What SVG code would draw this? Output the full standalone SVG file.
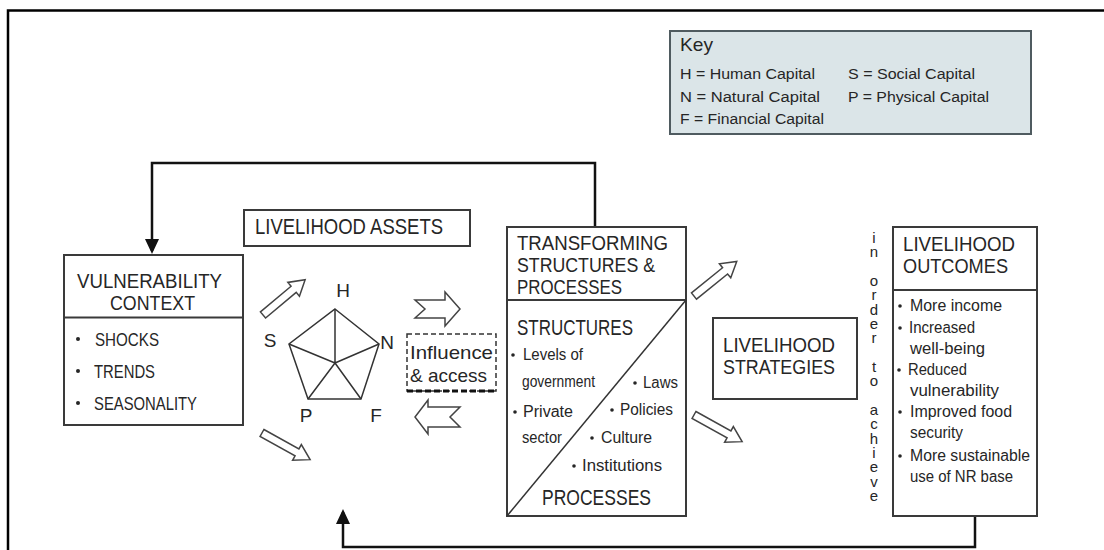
<svg xmlns="http://www.w3.org/2000/svg" xmlns:xlink="http://www.w3.org/1999/xlink" width="1104" height="550" viewBox="0 0 1104 550">
<style>
text{font-family:"Liberation Sans",Arial,sans-serif;fill:#262626}
.title{font-size:22px}
.title2{font-size:19.5px}
.item{font-size:16px}
.key{font-size:15.5px}
.box{fill:#fff;stroke:#3a3a3a;stroke-width:2}
.div{stroke:#3a3a3a;stroke-width:2;fill:none}
.thin{stroke:#333;stroke-width:1.5;fill:none}
.hollow{fill:#fff;stroke:#444;stroke-width:1.5;stroke-linejoin:miter}
.dot{fill:#262626}
.conn{fill:none;stroke:#111;stroke-width:2.5}
</style>
<defs>
<marker id="head" viewBox="0 0 15 14" refX="12" refY="7" markerWidth="15" markerHeight="14" markerUnits="userSpaceOnUse" orient="auto">
<path d="M0,0 L15,7 L0,14 Z" fill="#111"/>
</marker>
<path id="diagArrow" d="M0,-4 H40 V-9 L55,0 L40,9 V4 H0 Z"/>
</defs>
<rect x="0" y="0" width="1104" height="550" fill="#fff"/>
<path d="M8,550 V10.5 H1104" fill="none" stroke="#000" stroke-width="2.5"/>

<g id="key">
<rect x="670" y="31" width="361" height="103" fill="#dbe5e8" stroke="#4f5b60" stroke-width="2"/>
<text x="680" y="51" style="font-size:19px" textLength="33" lengthAdjust="spacingAndGlyphs">Key</text>
<text class="key" x="680" y="79" textLength="135" lengthAdjust="spacingAndGlyphs">H = Human Capital</text>
<text class="key" x="680" y="101.5" textLength="140" lengthAdjust="spacingAndGlyphs">N = Natural Capital</text>
<text class="key" x="680" y="124" textLength="144" lengthAdjust="spacingAndGlyphs">F = Financial Capital</text>
<text class="key" x="848" y="79" textLength="127" lengthAdjust="spacingAndGlyphs">S = Social Capital</text>
<text class="key" x="848" y="101.5" textLength="141" lengthAdjust="spacingAndGlyphs">P = Physical Capital</text>
</g>

<g id="connectors">
<path class="conn" d="M595,227 V163 H152 V251" marker-end="url(#head)"/>
<path class="conn" d="M975,516 V547 H343 V512" marker-end="url(#head)"/>
<use xlink:href="#diagArrow" class="hollow" transform="translate(263,315) rotate(-40)"/>
<use xlink:href="#diagArrow" class="hollow" transform="translate(262,433) rotate(29)"/>
<path class="hollow" d="M415,300 L445,300 L445,292 L460,309 L445,326 L445,318 L415,318 L425,309 Z"/>
<path class="hollow" d="M460,407 L428,407 L428,400 L415,417 L428,434 L428,427 L460,427 L450,417 Z"/>
<use xlink:href="#diagArrow" class="hollow" transform="translate(694,296) rotate(-39)"/>
<use xlink:href="#diagArrow" class="hollow" transform="translate(694,415) rotate(29)"/>
</g>

<g id="vulnerability-context">
<rect class="box" x="64" y="255" width="179" height="170"/>
<line class="div" x1="64" y1="317.5" x2="243" y2="317.5"/>
<text class="title2" x="77" y="288" textLength="145" lengthAdjust="spacingAndGlyphs">VULNERABILITY</text>
<text class="title2" x="110" y="310" textLength="85" lengthAdjust="spacingAndGlyphs">CONTEXT</text>
<circle class="dot" cx="78" cy="339" r="2"/>
<circle class="dot" cx="78" cy="371" r="2"/>
<circle class="dot" cx="78" cy="403" r="2"/>
<text x="95" y="346" style="font-size:19px" textLength="64" lengthAdjust="spacingAndGlyphs">SHOCKS</text>
<text x="94" y="378" style="font-size:19px" textLength="61" lengthAdjust="spacingAndGlyphs">TRENDS</text>
<text x="94" y="410" style="font-size:19px" textLength="103" lengthAdjust="spacingAndGlyphs">SEASONALITY</text>
</g>

<g id="livelihood-assets">
<rect class="box" x="244" y="210" width="226" height="36"/>
<text class="title" x="255" y="234" textLength="188" lengthAdjust="spacingAndGlyphs">LIVELIHOOD ASSETS</text>
</g>

<g id="asset-pentagon">
<polygon class="thin" points="335,309 379,344 361,399 308,399 289,344"/>
<path class="thin" d="M335,363 L335,309 M335,363 L379,344 M335,363 L361,399 M335,363 L308,399 M335,363 L289,344"/>
<text x="343" y="297" style="font-size:19px" text-anchor="middle">H</text>
<text x="387" y="349" style="font-size:19px" text-anchor="middle">N</text>
<text x="270" y="347" style="font-size:19px" text-anchor="middle">S</text>
<text x="306" y="422" style="font-size:19px" text-anchor="middle">P</text>
<text x="376" y="422" style="font-size:19px" text-anchor="middle">F</text>
</g>

<g id="influence-access">
<rect x="407" y="334" width="89" height="57" fill="#fff" stroke="#333" stroke-width="1.5" stroke-dasharray="5,3"/>
<line x1="407" y1="391" x2="496" y2="391" stroke="#111" stroke-width="3" stroke-dasharray="6,3"/>
<text x="410" y="359" style="font-size:19px" textLength="83" lengthAdjust="spacingAndGlyphs">Influence</text>
<text x="410" y="382" style="font-size:19px" textLength="77" lengthAdjust="spacingAndGlyphs">&amp; access</text>
</g>

<g id="transforming-structures">
<rect class="box" x="507" y="227" width="179" height="289"/>
<line class="div" x1="507" y1="300" x2="686" y2="300"/>
<line class="thin" x1="686" y1="300" x2="507" y2="516"/>
<text class="title2" x="517" y="250" textLength="151" lengthAdjust="spacingAndGlyphs">TRANSFORMING</text>
<text class="title2" x="517" y="272" textLength="138" lengthAdjust="spacingAndGlyphs">STRUCTURES &amp;</text>
<text class="title2" x="517" y="294" textLength="105" lengthAdjust="spacingAndGlyphs">PROCESSES</text>
<text class="title" x="517" y="335" textLength="116" lengthAdjust="spacingAndGlyphs">STRUCTURES</text>
<circle class="dot" cx="513" cy="355" r="1.8"/>
<text class="item" x="523" y="360" textLength="60" lengthAdjust="spacingAndGlyphs">Levels of</text>
<text class="item" x="522" y="387" textLength="73" lengthAdjust="spacingAndGlyphs">government</text>
<circle class="dot" cx="635" cy="383" r="1.8"/>
<text class="item" x="643" y="388" textLength="35" lengthAdjust="spacingAndGlyphs">Laws</text>
<circle class="dot" cx="515" cy="412" r="1.8"/>
<text class="item" x="523" y="417" textLength="50" lengthAdjust="spacingAndGlyphs">Private</text>
<circle class="dot" cx="612" cy="410" r="1.8"/>
<text class="item" x="620" y="415" textLength="53" lengthAdjust="spacingAndGlyphs">Policies</text>
<text class="item" x="522" y="443" textLength="40" lengthAdjust="spacingAndGlyphs">sector</text>
<circle class="dot" cx="592" cy="438" r="1.8"/>
<text class="item" x="601" y="443" textLength="51" lengthAdjust="spacingAndGlyphs">Culture</text>
<circle class="dot" cx="574" cy="466" r="1.8"/>
<text class="item" x="582" y="471" textLength="80" lengthAdjust="spacingAndGlyphs">Institutions</text>
<text class="title" x="542" y="505" textLength="109" lengthAdjust="spacingAndGlyphs">PROCESSES</text>
</g>

<g id="livelihood-strategies">
<rect class="box" x="713" y="318" width="144" height="81"/>
<text class="title2" x="723" y="352" textLength="112" lengthAdjust="spacingAndGlyphs">LIVELIHOOD</text>
<text class="title2" x="723" y="374" textLength="112" lengthAdjust="spacingAndGlyphs">STRATEGIES</text>
</g>

<g id="in-order-to-achieve">
<text style="font-size:15px" text-anchor="middle" x="874 874 874 874 874 874 874 874 874 874 874 874 874 874 874 874 874 874 874" y="243 257.3 271.7 286 300.3 314.7 329 343.3 357.6 372 386.3 400.6 415 429.3 443.6 458 472.3 486.6 501">in order to achieve</text>
</g>

<g id="livelihood-outcomes">
<rect class="box" x="893" y="227" width="144" height="289"/>
<line class="div" x1="893" y1="290" x2="1037" y2="290"/>
<text class="title2" x="903" y="251" textLength="112" lengthAdjust="spacingAndGlyphs">LIVELIHOOD</text>
<text class="title2" x="903" y="273" textLength="105" lengthAdjust="spacingAndGlyphs">OUTCOMES</text>
<circle class="dot" cx="900" cy="306" r="1.8"/>
<text class="item" x="910" y="311" textLength="92" lengthAdjust="spacingAndGlyphs">More income</text>
<circle class="dot" cx="900" cy="328" r="1.8"/>
<text class="item" x="909" y="333" textLength="66" lengthAdjust="spacingAndGlyphs">Increased</text>
<text class="item" x="910" y="354" textLength="75" lengthAdjust="spacingAndGlyphs">well-being</text>
<circle class="dot" cx="899" cy="370" r="1.8"/>
<text class="item" x="908" y="375" textLength="59" lengthAdjust="spacingAndGlyphs">Reduced</text>
<text class="item" x="910" y="396" textLength="89" lengthAdjust="spacingAndGlyphs">vulnerability</text>
<circle class="dot" cx="900" cy="412" r="1.8"/>
<text class="item" x="910" y="417" textLength="102" lengthAdjust="spacingAndGlyphs">Improved food</text>
<text class="item" x="910" y="438" textLength="53" lengthAdjust="spacingAndGlyphs">security</text>
<circle class="dot" cx="900" cy="456" r="1.8"/>
<text class="item" x="910" y="461" textLength="120" lengthAdjust="spacingAndGlyphs">More sustainable</text>
<text class="item" x="910" y="482" textLength="103" lengthAdjust="spacingAndGlyphs">use of NR base</text>
</g>
</svg>
